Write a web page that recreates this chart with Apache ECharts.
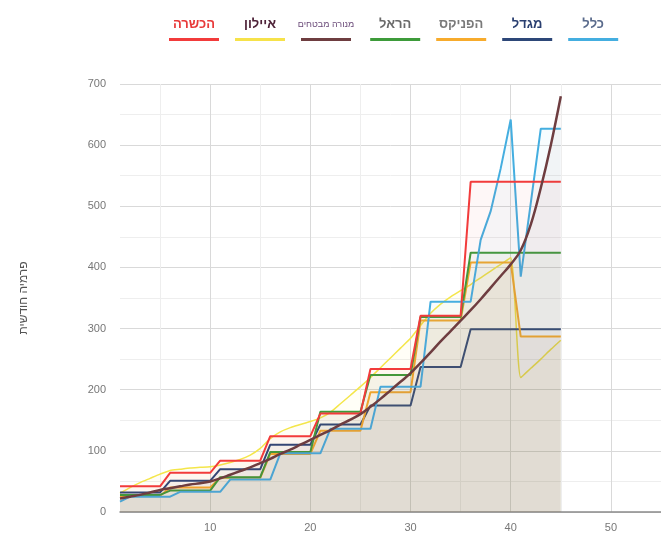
<!DOCTYPE html>
<html><head><meta charset="utf-8">
<script src="https://cdn.jsdelivr.net/npm/echarts@6/dist/echarts.min.js"></script>
<style>html,body{margin:0;padding:0;background:#fff}#c{width:661px;height:536px}</style>
</head><body><div id="c"></div>
<script>
// ---- data ----
const ages = [1,2,3,4,5,6,7,8,9,10,11,12,13,14,15,16,17,18,19,20,21,22,23,24,25,26,27,28,29,30,31,32,33,34,35,36,37,38,39,40,41,42,43,44,45];
const xMajorTicks = [10,20,30,40,50];
const xMinorTicks = [5,15,25,35,45,55];
const yAxisTitle = 'פרמיה חודשית';
const companies = ['הכשרה','איילון','מנורה מבטחים','הראל','הפניקס','מגדל','כלל'];

const hachshara = [42,42,42,42,42, 64,64,64,64,64, 84,84,84,84,84, 124,124,124,124,124, 161,161,161,161,161, 234,234,234,234,234, 321,321,321,321,321, 540,540,540,540,540,540,540,540,540,540];
const ayalon = [31,40,48,55,62, 68,70,72,73,74, 77,81,86,93,104, 120,131,138,143,148, 154,163,177,191,205, 220,236,252,268,284, 305,325,340,352,362, 372,383,394,405,416, 220,235,250,266,281];
const menora = [22,25,28,32,36, 39,42,45,47,50, 55,61,67,73,80, 87,95,102,110,118, 126,134,143,151,160, 172,185,199,213,227, 244,261,279,296,313, 330,348,367,386,405, 428,470,530,600,680];
const harel = [28,28,28,28,28, 35,35,35,35,35, 57,57,57,57,57, 98,98,98,98,98, 164,164,164,164,164, 224,224,224,224,224, 319,319,319,319,319, 424,424,424,424,424,424,424,424,424,424];
const phoenix = [26,26,26,26,26, 40,40,40,40,40, 56,56,56,56,56, 95,95,95,95,95, 133,133,133,133,133, 196,196,196,196,196, 313,313,313,313,313, 408,408,408,408,408, 287,287,287,287,287];
const migdal = [32,32,32,32,32, 51,51,51,51,51, 70,70,70,70,70, 110,110,110,110,110, 143,143,143,143,143, 174,174,174,174,174, 237,237,237,237,237, 299,299,299,299,299,299,299,299,299,299];
const clal = [17, 25,25,25,25,25, 33,33,33,33,33, 53,53,53,53,53, 96,96,96,96,96, 136,136,136,136,136, 205,205,205,205,205, 344,344,344,344,344, 445,492,562,642, 385,505,627,627,627];

const seriesValues = [hachshara, ayalon, menora, harel, phoenix, migdal, clal];
const lineColors = ['#f23b3b','#f4e64a','#6e3d40','#3d9b3a','#f7ab2c','#2d4778','#44aee0'];
const logoColors = ['#e83a3a','#4e2238','#6a4a78','#6a6a6a','#7a7a7a','#2a3f70','#5a6b8c'];
const lineWidths = [2,1.5,2.5,2,2,2,2];
const drawOrder = [1,5,4,3,6,0,2];

const FONT = '"Liberation Sans", "DejaVu Sans", Arial, sans-serif';
const rich = {};
companies.forEach((c, i) => {
  rich['n' + i] = {width: 50, align: 'center', fontSize: i === 2 ? 9 : 13, fontWeight: i === 2 ? 'normal' : 'bold', color: logoColors[i], lineHeight: 26, fontFamily: FONT};
  rich['u' + i] = {width: 50, height: 3, backgroundColor: lineColors[i] === '#f4e64a' ? '#f6e24a' : lineColors[i], lineHeight: 4, align: 'center'};
});

const series = drawOrder.map(i => ({
  name: companies[i],
  type: 'line',
  data: ages.map((a, k) => [a, seriesValues[i][k]]),
  showSymbol: false,
  symbol: 'none',
  smooth: i === 2 ? 0.4 : (i === 1 ? 0.2 : false),
  lineStyle: {color: lineColors[i], width: lineWidths[i]},
  itemStyle: {color: lineColors[i]},
  areaStyle: {color: lineColors[i], opacity: 0.045},
  z: 2 + drawOrder.indexOf(i),
  xAxisIndex: 0
}));

const chart = echarts.init(document.getElementById('c'), null, {renderer: 'canvas'});
chart.setOption({
  animation: false,
  backgroundColor: '#ffffff',
  textStyle: {fontFamily: FONT},
  legend: {
    data: companies,
    left: 159, top: 13,
    itemWidth: 0, itemHeight: 0, itemGap: 11,
    icon: 'rect', selectedMode: false,
    formatter: name => { const i = companies.indexOf(name); return '{n' + i + '|' + name + '}\n{u' + i + '|}'; },
    textStyle: {rich: rich}
  },
  grid: {left: 120, right: 0, top: 84, bottom: 24, containLabel: false},
  xAxis: [{
    type: 'value', min: 1, max: 55, position: 'bottom',
    axisLine: {show: true, lineStyle: {color: '#8a8a8a', width: 1.5}},
    axisTick: {show: false, customValues: xMajorTicks},
    axisLabel: {customValues: xMajorTicks, color: '#777', fontSize: 11, margin: 10, fontFamily: FONT},
    splitLine: {show: true, lineStyle: {color: '#d9d9d9', width: 1}}
  }, {
    type: 'value', min: 1, max: 55, position: 'top',
    axisLine: {show: false}, axisTick: {show: false, customValues: xMinorTicks},
    axisLabel: {show: false, customValues: xMinorTicks},
    splitLine: {show: true, lineStyle: {color: '#eeeeee', width: 1}}
  }],
  yAxis: {
    type: 'value', min: 0, max: 700, interval: 100,
    name: yAxisTitle, nameLocation: 'middle', nameGap: 90, nameRotate: 90,
    nameTextStyle: {color: '#555', fontSize: 12, fontFamily: FONT},
    axisLine: {show: false}, axisTick: {show: false},
    axisLabel: {color: '#777', fontSize: 11, margin: 14, fontFamily: FONT},
    splitLine: {show: true, lineStyle: {color: '#d9d9d9', width: 1}},
    minorTick: {show: false, splitNumber: 2},
    minorSplitLine: {show: true, lineStyle: {color: '#eeeeee', width: 1}}
  },
  series: series
});
</script></body></html>
